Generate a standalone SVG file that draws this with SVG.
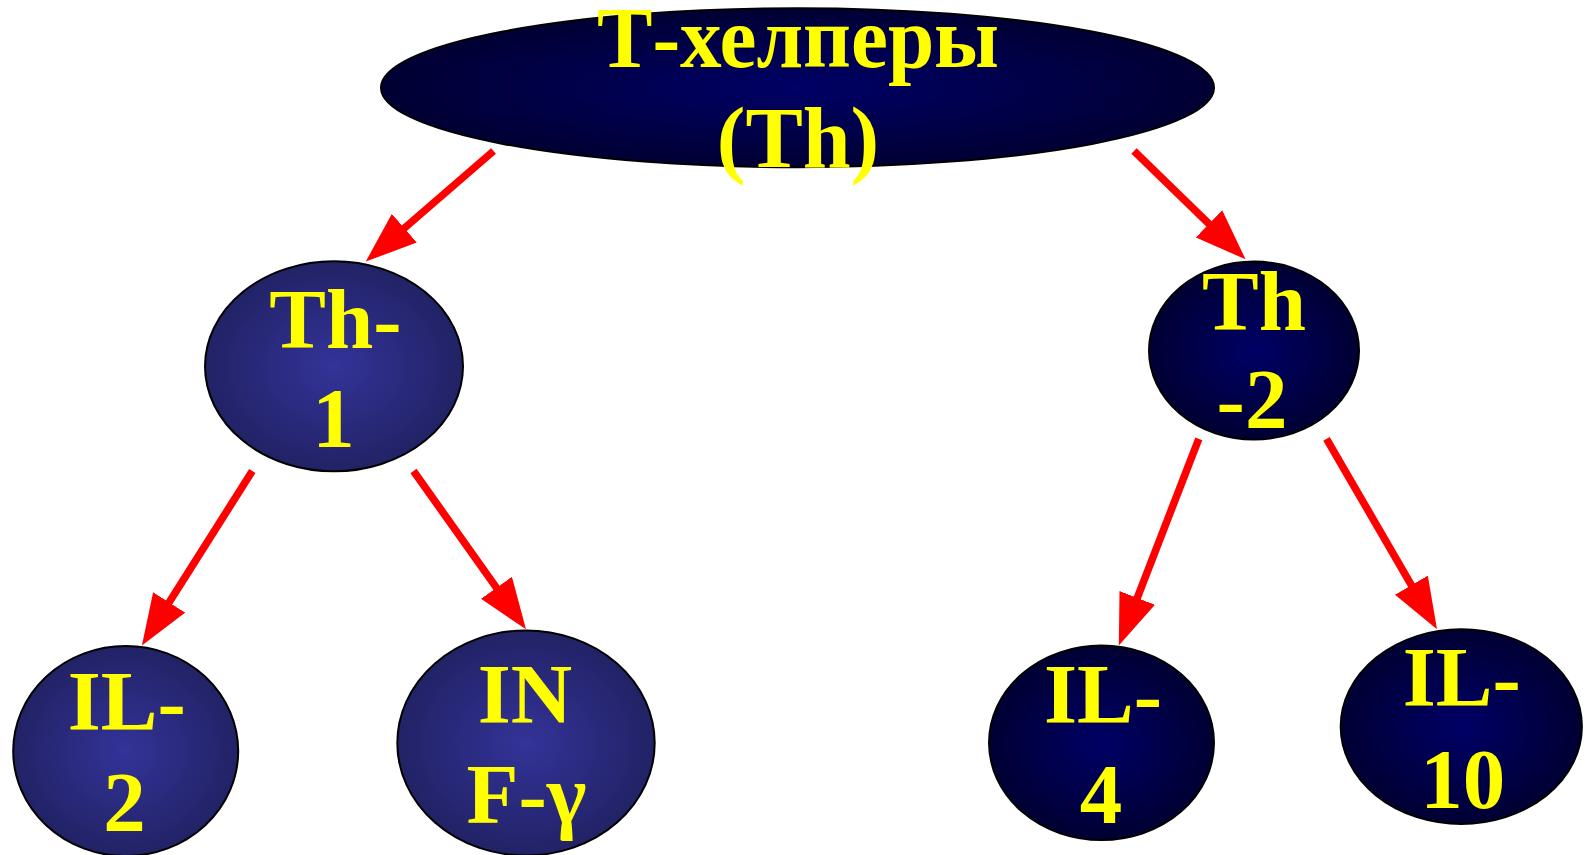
<svg xmlns="http://www.w3.org/2000/svg" width="1589" height="855" viewBox="0 0 1589 855">
<style>
.node{stroke:#000;stroke-width:2}
.light{fill:url(#gLight)}
.dark{fill:url(#gDark)}
.lbl{font-family:"Liberation Serif","Times New Roman",serif;font-weight:bold;font-size:85px;fill:#ffff00;text-anchor:middle}
.top{font-size:86px}
.conn{stroke:#ff0000;stroke-width:7.5;fill:none;marker-end:url(#ah)}
</style>
<defs>
<radialGradient id="gLight" cx="50%" cy="50%" r="50%">
<stop offset="0" stop-color="#333399"/>
<stop offset="1" stop-color="#222266"/>
</radialGradient>
<radialGradient id="gDark" cx="50%" cy="50%" r="50%">
<stop offset="0" stop-color="#000066"/>
<stop offset="1" stop-color="#000033"/>
</radialGradient>
<marker id="ah" markerUnits="userSpaceOnUse" markerWidth="52" markerHeight="38" refX="2" refY="19" orient="auto">
<path d="M0,0 L51,19 L0,38 z" fill="#ff0000"/>
</marker>
</defs>
<rect width="1589" height="855" fill="#ffffff"/>
<g id="connectors">
<line class="conn" x1="493.5" y1="151" x2="402.8" y2="229.5"/>
<line class="conn" x1="1134" y1="151" x2="1210.4" y2="225.2"/>
<line class="conn" x1="252.3" y1="471" x2="168.1" y2="604.1"/>
<line class="conn" x1="413.5" y1="471" x2="497.6" y2="589.4"/>
<line class="conn" x1="1198.8" y1="438.8" x2="1136.5" y2="599.8"/>
<line class="conn" x1="1326.5" y1="438.8" x2="1412.4" y2="586.9"/>
</g>
<g id="th">
<ellipse class="node dark" cx="797.5" cy="87.7" rx="416.5" ry="79.5"/>
<text class="lbl top" x="798" y="66.5" textLength="402" lengthAdjust="spacingAndGlyphs">Т-хелперы</text>
<text class="lbl top" x="798" y="167">(Th)</text>
</g>
<g id="th1">
<ellipse class="node light" cx="334" cy="366.3" rx="129" ry="105"/>
<text class="lbl" x="335.5" y="347.6">Th-</text>
<text class="lbl" x="333.4" y="447">1</text>
</g>
<g id="th2">
<ellipse class="node dark" cx="1254" cy="350.6" rx="105" ry="89"/>
<text class="lbl" x="1254" y="330">Th</text>
<text class="lbl" x="1252" y="427.6">-2</text>
</g>
<g id="il2">
<ellipse class="node light" cx="125.7" cy="751" rx="112.5" ry="105"/>
<text class="lbl" x="126.7" y="729.6">IL-</text>
<text class="lbl" x="124.6" y="831">2</text>
</g>
<g id="ifn">
<ellipse class="node light" cx="526" cy="743" rx="128.7" ry="112.5"/>
<text class="lbl" x="525" y="722.5">IN</text>
<text class="lbl" x="526.5" y="823">F-γ</text>
</g>
<g id="il4">
<ellipse class="node dark" cx="1101.5" cy="742.8" rx="112.5" ry="97.3"/>
<text class="lbl" x="1103" y="722.5">IL-</text>
<text class="lbl" x="1101" y="823">4</text>
</g>
<g id="il10">
<ellipse class="node dark" cx="1461.3" cy="726.6" rx="120.6" ry="97.3"/>
<text class="lbl" x="1461.8" y="706">IL-</text>
<text class="lbl" x="1462.8" y="807.7">10</text>
</g>
</svg>
